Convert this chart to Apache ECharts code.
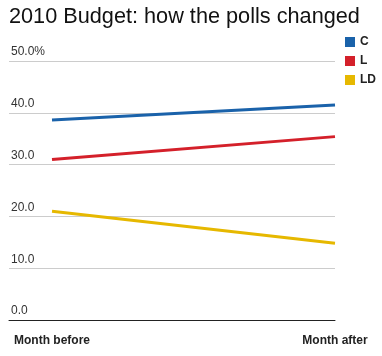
<!DOCTYPE html>
<html><head><meta charset="utf-8">
<script src="https://cdn.jsdelivr.net/npm/echarts@6/dist/echarts.min.js"></script>
<style>html,body{margin:0;padding:0;background:#fff}#c{width:382px;height:356px}</style>
</head><body><div id="c"></div>
<script>
var categories = ['Month before', 'Month after'];
var seriesNames = ['C', 'L', 'LD'];
var valuesC = [38.6, 41.5];
var valuesL = [31.0, 35.4];
var valuesLD = [21.0, 14.8];
var yTicks = [0, 10, 20, 30, 40, 50];
var colors = ['#1a62aa', '#d4202a', '#e6b800'];

var allValues = [valuesC, valuesL, valuesLD];
var chart = echarts.init(document.getElementById('c'));
chart.setOption({
  animation: false,
  title: {
    text: '2010 Budget: how the polls changed',
    left: 9, top: 6, padding: 0,
    textStyle: { fontFamily: 'Liberation Sans, Arial, sans-serif', fontSize: 21.7, fontWeight: 'normal', color: '#111' }
  },
  legend: {
    orient: 'vertical', left: 340, top: 31, itemWidth: 10, itemHeight: 10, itemGap: 7,
    icon: 'rect',
    data: seriesNames,
    textStyle: { fontFamily: 'Liberation Sans, Arial, sans-serif', fontSize: 12, fontWeight: 'bold', color: '#222', padding: [0,0,0,0] }
  },
  grid: { left: 9, right: 47, top: 61, bottom: 36, containLabel: false },
  xAxis: {
    type: 'value', min: -0.152, max: 1,
    axisLine: { show: true, lineStyle: { color: '#222', width: 1 } },
    axisTick: { show: false },
    splitLine: { show: false },
    axisLabel: {
      customValues: [0, 1],
      formatter: function (v) { return categories[Math.round(v)]; },
      fontFamily: 'Liberation Sans, Arial, sans-serif', fontSize: 12, fontWeight: 'bold', color: '#222', margin: 15
    }
  },
  yAxis: {
    type: 'value', min: 0, max: 50, interval: 10,
    axisLine: { show: false }, axisTick: { show: false },
    splitLine: { lineStyle: { color: '#cccccc', width: 1 } },
    axisLabel: {
      inside: true, margin: 2, verticalAlign: 'bottom', padding: [0,0,3,0],
      fontFamily: 'Liberation Sans, Arial, sans-serif', fontSize: 12, color: '#333',
      formatter: function (v) { return v === 50 ? v.toFixed(1) + '%' : v.toFixed(1); }
    }
  },
  series: seriesNames.map(function (n, i) {
    return {
      name: n, type: 'line', symbol: 'none',
      data: allValues[i].map(function (v, j) { return [j, v]; }),
      itemStyle: { color: colors[i] },
      lineStyle: { color: colors[i], width: 3 }
    };
  })
});
</script></body></html>
